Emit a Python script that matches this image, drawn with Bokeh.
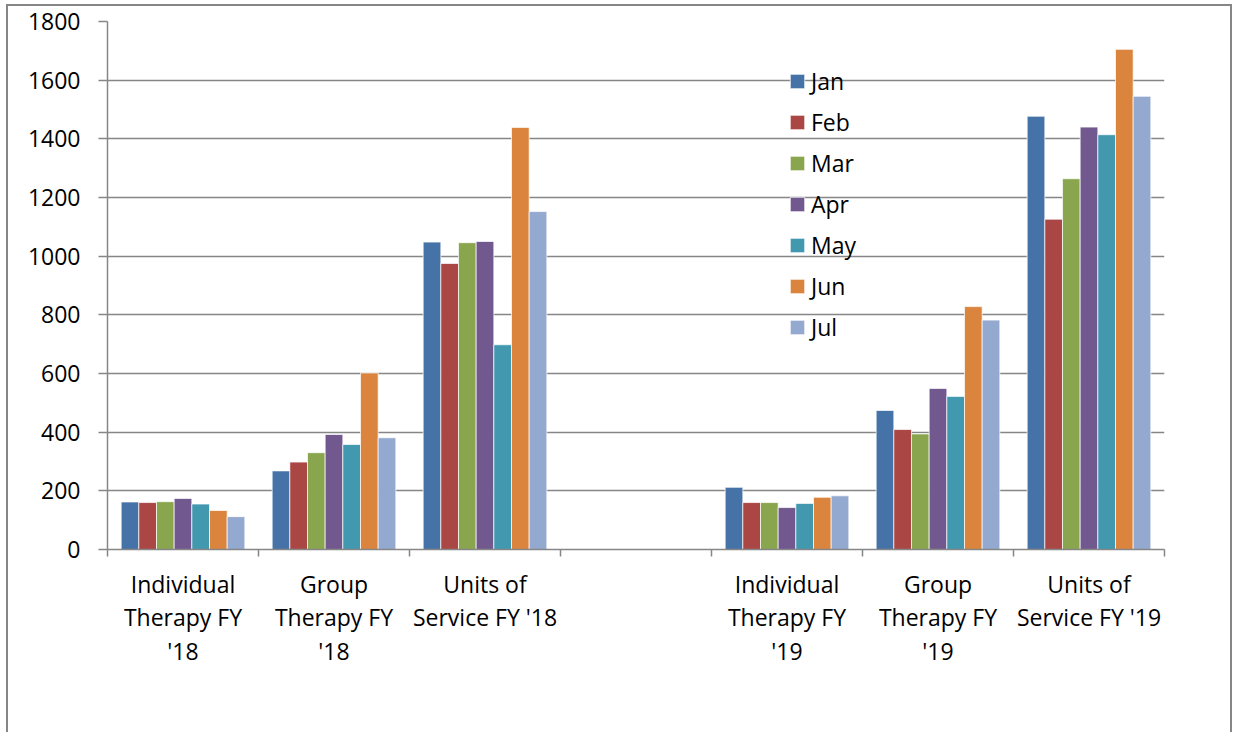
from bokeh.plotting import figure
from bokeh.models import (ColumnDataSource, Range1d, FixedTicker, Legend, LegendItem)
from bokeh.transform import dodge
from bokeh.embed import file_html
from bokeh.resources import INLINE

# ---------------- data ----------------
categories = ["Individual\nTherapy FY\n'18", "Group\nTherapy FY\n'18", "Units of\nService FY '18",
              "", "Individual\nTherapy FY\n'19", "Group\nTherapy FY\n'19", "Units of\nService FY '19"]
months = ["Jan", "Feb", "Mar", "Apr", "May", "Jun", "Jul"]
jan = [162, 268, 1048, None, 212, 474, 1477]
feb = [160, 298, 975, None, 160, 409, 1126]
mar = [163, 330, 1046, None, 160, 394, 1264]
apr = [174, 392, 1050, None, 143, 549, 1440]
may = [155, 358, 698, None, 157, 522, 1414]
jun = [133, 602, 1439, None, 178, 828, 1705]
jul = [112, 381, 1152, None, 183, 782, 1545]
series = [jan, feb, mar, apr, may, jun, jul]
colors = ["#4572A7", "#AA4643", "#89A54E", "#71588F", "#4198AF", "#DB843D", "#93A9CF"]
y_ticks = [0, 200, 400, 600, 800, 1000, 1200, 1400, 1600, 1800]

FONT = "Open Sans"
FS = "23px"

slot_centers = [i + 0.5 for i in range(len(categories))]
data = {"x": slot_centers}
for m, s in zip(months, series):
    data[m] = [v if v is not None else 0 for v in s]
src = ColumnDataSource(data)

W, H = 1226, 728
p = figure(width=W, height=H, output_backend="svg", toolbar_location=None,
           x_range=Range1d(0, len(categories)), y_range=Range1d(0, 1800),
           min_border_left=99, min_border_right=70, min_border_top=15, min_border_bottom=185)
p.styles = {"border-top": "2px solid #868686", "border-left": "2px solid #868686",
            "border-right": "2px solid #868686", "margin-left": "6px", "margin-top": "4px"}
p.outline_line_color = None
p.background_fill_color = "white"

bw = 0.117
items = []
for i, (m, c) in enumerate(zip(months, colors)):
    r = p.vbar(x=dodge("x", (i - 3) * bw, range=p.x_range), top=m, width=bw, source=src,
               fill_color=c, line_color="white", line_alpha=0.7, line_width=1)
    items.append(LegendItem(label=m, renderers=[r]))

# y axis
p.yaxis.ticker = FixedTicker(ticks=y_ticks)
p.yaxis.axis_line_color = "#868686"
p.yaxis.axis_line_width = 1.5
p.yaxis.major_tick_line_color = "#868686"
p.yaxis.major_tick_line_width = 1.5
p.yaxis.major_tick_out = 9
p.yaxis.major_tick_in = 0
p.yaxis.minor_tick_line_color = None
p.yaxis.major_label_text_font = FONT
p.yaxis.major_label_text_font_size = FS
p.yaxis.major_label_text_color = "black"
p.yaxis.major_label_standoff = 18

# x axis
p.xaxis.ticker = FixedTicker(ticks=slot_centers, minor_ticks=list(range(len(categories) + 1)))
p.xaxis.major_label_overrides = {c: lab for c, lab in zip(slot_centers, categories)}
p.xaxis.axis_line_color = "#868686"
p.xaxis.axis_line_width = 1.5
p.xaxis.major_tick_line_color = None
p.xaxis.minor_tick_line_color = "#868686"
p.xaxis.minor_tick_line_width = 1.5
p.xaxis.minor_tick_out = 7
p.xaxis.minor_tick_in = 0
p.xaxis.major_label_text_font = FONT
p.xaxis.major_label_text_font_size = FS
p.xaxis.major_label_text_color = "black"
p.xaxis.major_label_standoff = 11
p.xaxis.major_label_text_line_height = 1.05

p.xgrid.grid_line_color = None
p.ygrid.ticker = FixedTicker(ticks=y_ticks)
p.ygrid.grid_line_color = "#868686"
p.ygrid.grid_line_width = 1.5

legend = Legend(items=items, location=(681, 206), orientation="vertical",
                glyph_width=18, glyph_height=18, label_height=20, spacing=9,
                label_standoff=5, padding=0, margin=0,
                label_text_font=FONT, label_text_font_size=FS, label_text_color="black",
                border_line_color=None, background_fill_alpha=0)
p.add_layout(legend, "center")

open("out.html", "w").write(file_html(p, INLINE))
